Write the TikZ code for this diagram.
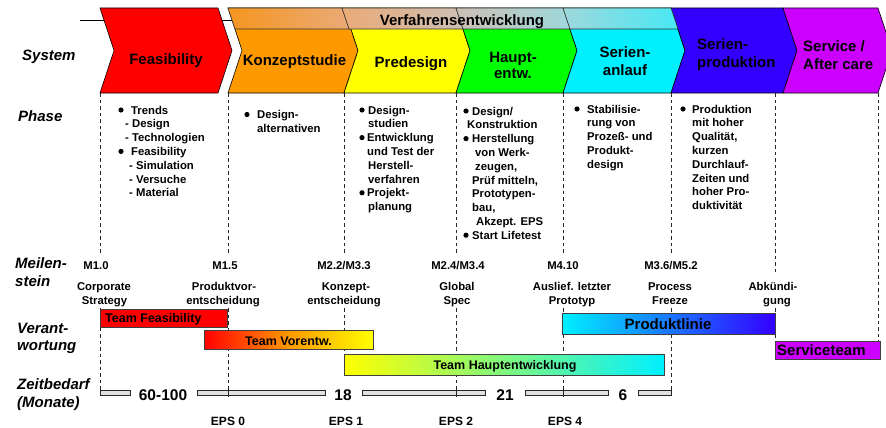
\documentclass[tikz,border=0pt]{standalone}
\usepackage{fontspec}
\setmainfont{Liberation Sans}

\definecolor{cRed}{RGB}{255,0,0}
\definecolor{cOrange}{RGB}{255,153,0}
\definecolor{cYellow}{RGB}{255,255,0}
\definecolor{cGreen}{RGB}{0,255,0}
\definecolor{cCyan}{RGB}{0,240,255}
\definecolor{cBlue}{RGB}{51,0,255}
\definecolor{cPurple}{RGB}{204,0,255}
\definecolor{bandA}{RGB}{245,149,30}
\definecolor{bandB}{RGB}{234,171,120}
\definecolor{bandC}{RGB}{205,191,180}
\definecolor{bandD}{RGB}{158,216,220}
\definecolor{bandE}{RGB}{72,232,244}

\tikzset{
  chev/.style={draw=black, line width=0.6pt},
  bandpart/.style={draw=black!80, line width=0.6pt},
  dline/.style={draw=black!85, line width=0.7pt, dash pattern=on 3.5pt off 3pt},
  bar/.style={draw=black!75, line width=0.8pt},
  tline/.style={fill=black!12, draw=black!85, line width=0.7pt},
  tick/.style={draw=black!85, line width=0.7pt},
  big/.style={font=\fontsize{15}{17}\selectfont\bfseries, inner sep=0pt},
  barlbl/.style={font=\fontsize{12.5}{14}\selectfont\bfseries, inner sep=0pt},
  lbl/.style={font=\fontsize{15}{17}\selectfont\bfseries\itshape, inner sep=0pt, anchor=base west},
  ptxt/.style={font=\fontsize{11.3}{13.8}\selectfont\bfseries, inner sep=0pt, anchor=base west},
  mtxt/.style={font=\fontsize{11.3}{13.8}\selectfont\bfseries, inner sep=0pt, anchor=base},
  num/.style={font=\fontsize{15.5}{17}\selectfont\bfseries, inner sep=0pt, anchor=base},
  eps/.style={font=\fontsize{12}{14}\selectfont\bfseries, inner sep=0pt, anchor=base},
}

% phase chevron: left edge x, right edge x, fill colour
\newcommand\chevron[3]{%
  \filldraw[chev, fill=#3] (#1,8) -- (#2,8) -- ({#2+14},50.5) -- (#2,93)
    -- (#1,93) -- ({#1+14},50.5) -- cycle;}
% one slanted part of the process development band
\newcommand\bandseg[4]{%
  \shadedraw[bandpart, left color=#3, right color=#4]
    (#1,8) -- (#2,8) -- ({#2+7},29) -- ({#1+7},29) -- cycle;}
% one piece of the double time line
\newcommand\tseg[2]{\filldraw[tline] (#1,390.5) rectangle (#2,395.5);}
\newcommand\bul[2]{\fill (#1,#2) circle[radius=2.6pt];}

\begin{document}
\begin{tikzpicture}[x=1pt,y=-1pt]
\useasboundingbox (0,0) rectangle (886,428);

% line behind the phase arrows
\draw[black, line width=0.9pt] (80,20) -- (880,20);

% phase arrows
\chevron{100}{218}{cRed}
\chevron{228}{344}{cOrange}
\chevron{344}{456}{cYellow}
\chevron{456}{563}{cGreen}
\chevron{563}{671}{cCyan}
\chevron{671}{783}{cBlue}
\chevron{783}{878}{cPurple}

% process development band
\bandseg{228}{342}{bandA}{bandB}
\bandseg{342}{456}{bandB}{bandC}
\bandseg{456}{563}{bandC}{bandD}
\bandseg{563}{671}{bandD}{bandE}
\node[big, anchor=base] (verf) at (462,26) {Verfahrensentwicklung};

% arrow labels
\node[big, anchor=base] (feas) at (166,64) {Feasibility};
\node[big, anchor=base] (konz) at (294.5,66) {Konzeptstudie};
\node[big, anchor=base] (pred) at (411,67) {Predesign};
\node[big, anchor=base] (hpt1) at (513,63) {Haupt-};
\node[big, anchor=base] (hpt2) at (513,78) {entw.};
\node[big, anchor=base] (sanl1) at (625,58) {Serien-};
\node[big, anchor=base] (sanl2) at (625,75) {anlauf};
\node[big, anchor=base west] (sprod1) at (697,50) {Serien-};
\node[big, anchor=base west] (sprod2) at (697,67) {produktion};
\node[big, anchor=base west] (serv1) at (803,52) {Service /};
\node[big, anchor=base west] (serv2) at (803,70) {After care};

% row titles
\node[lbl] (lsys) at (22,60) {System};
\node[lbl] (lpha) at (18,121) {Phase};
\node[lbl] (lmei1) at (15,268) {Meilen-};
\node[lbl] (lmei2) at (15,286) {stein};
\node[lbl] (lver1) at (17,333) {Verant-};
\node[lbl] (lver2) at (17,350) {wortung};
\node[lbl] (lzeit1) at (17,389) {Zeitbedarf};
\node[lbl] (lzeit2) at (17,407) {(Monate)};

% dashed phase borders
\foreach \lx in {100,228,456,563,671} {
  \draw[dline] (\lx,93) -- (\lx,255);
  \draw[dline] (\lx,308) -- (\lx,391);
}
\draw[dline] (344,93) -- (344,255);
\draw[dline] (344,308) -- (344,354);
\draw[dline] (775,93) -- (775,273);
\draw[dline] (775,308) -- (775,341);
\draw[dline] (878,93) -- (878,341);

% phase contents
\foreach \lx/\ly/\lt [count=\i] in {131/114/Trends, 125/127.8/- Design,
    125/141.6/- Technologien, 131/155.4/Feasibility, 129/169.2/- Simulation,
    129/183/- Versuche, 129/196.8/- Material}
  \node[ptxt] (pa-\i) at (\lx,\ly) {\lt};
\bul{121}{110}\bul{121}{151.4}

\foreach \lx/\ly/\lt [count=\i] in {257/118.5/Design-, 257/132.3/alternativen}
  \node[ptxt] (pb-\i) at (\lx,\ly) {\lt};
\bul{247}{114.5}

\foreach \lx/\ly/\lt [count=\i] in {368/114/Design-, 368/127.8/studien,
    367/141.6/Entwicklung, 367/155.4/und Test der, 368/169.2/Herstell-,
    368/183/verfahren, 367/196.8/Projekt-, 368/210.6/planung}
  \node[ptxt] (pc-\i) at (\lx,\ly) {\lt};
\bul{362}{110}\bul{362}{137.6}\bul{362}{192.8}

\foreach \lx/\ly/\lt [count=\i] in {472/115/{Design/}, 467/128.8/Konstruktion,
    472/142.6/Herstellung, 475/156.4/von Werk-, 475/170.2/{zeugen,},
    472/184/{Prüf mitteln,}, 472/197.8/Prototypen-, 472/211.6/{bau,},
    476/225.4/Akzept. EPS, 472/239.2/Start Lifetest}
  \node[ptxt] (pd-\i) at (\lx,\ly) {\lt};
\bul{466}{111}\bul{466}{138.6}\bul{466}{235.2}

\foreach \lx/\ly/\lt [count=\i] in {587/113/Stabilisie-, 587/126.8/rung von,
    587/140.6/Prozeß- und, 587/154.4/Produkt-, 587/168.2/design}
  \node[ptxt] (pe-\i) at (\lx,\ly) {\lt};
\bul{577}{109}

\foreach \lx/\ly/\lt [count=\i] in {692/113/Produktion, 692/126.8/mit hoher,
    692/140.6/{Qualität,}, 692/154.4/kurzen, 692/168.2/Durchlauf-,
    692/182/Zeiten und, 692/195.8/hoher Pro-, 692/209.6/duktivität}
  \node[ptxt] (pf-\i) at (\lx,\ly) {\lt};
\bul{683}{109}

% milestones
\foreach \lx/\lt [count=\i] in {96/M1.0, 225/M1.5, 344/{M2.2/M3.3},
    458/{M2.4/M3.4}, 563/M4.10, 671/{M3.6/M5.2}}
  \node[mtxt] (mc-\i) at (\lx,269) {\lt};
\foreach \lx/\lt [count=\i] in {104/Corporate, 224/Produktvor-, 346/Konzept-,
    457/Global, 572/Auslief. letzter, 670/Process, 773/Abkündi-}
  \node[mtxt] (md-\i) at (\lx,290) {\lt};
\foreach \lx/\lt [count=\i] in {104.5/Strategy, 223/entscheidung, 344/entscheidung,
    457/Spec, 572/Prototyp, 670/Freeze, 777/gung}
  \node[mtxt] (me-\i) at (\lx,304) {\lt};

% responsibility bars
\filldraw[bar, fill=cRed] (100,309) rectangle (227,327);
\node[barlbl, anchor=base west] (tfeas) at (105,322.5) {Team Feasibility};
\shadedraw[bar, left color=cRed, right color=cYellow, middle color=cOrange]
  (204,330) rectangle (373,349);
\node[barlbl, anchor=base] (tvor) at (288.5,345) {Team Vorentw.};
\shadedraw[bar, left color=cYellow, right color=cCyan] (344,354) rectangle (664,375);
\node[barlbl, anchor=base] (thpt) at (505,369) {Team Hauptentwicklung};
\shadedraw[bar, left color=cCyan, right color=cBlue] (562,313) rectangle (775,334);
\node[big, anchor=base] (tprod) at (668,329) {Produktlinie};
\filldraw[bar, fill=cPurple] (775,341) rectangle (880,359);
\node[big, anchor=base west] (tserv) at (777,355) {Serviceteam};

% time line
\tseg{100}{130}
\tseg{197}{325}
\tseg{362}{485}
\tseg{525}{608}
\tseg{638}{671}
\foreach \lx in {228,456,563} \draw[tick] (\lx,389) -- (\lx,396.5);
\node[num] (n1) at (163,400) {60-100};
\node[num] (n2) at (343,400) {18};
\node[num] (n3) at (505,400) {21};
\node[num] (n4) at (623,400) {6};

% EPS marks
\node[eps] (eps0) at (228,425) {EPS 0};
\node[eps] (eps1) at (346,425) {EPS 1};
\node[eps] (eps2) at (456,425) {EPS 2};
\node[eps] (eps4) at (565,425) {EPS 4};
\end{tikzpicture}
\end{document}
